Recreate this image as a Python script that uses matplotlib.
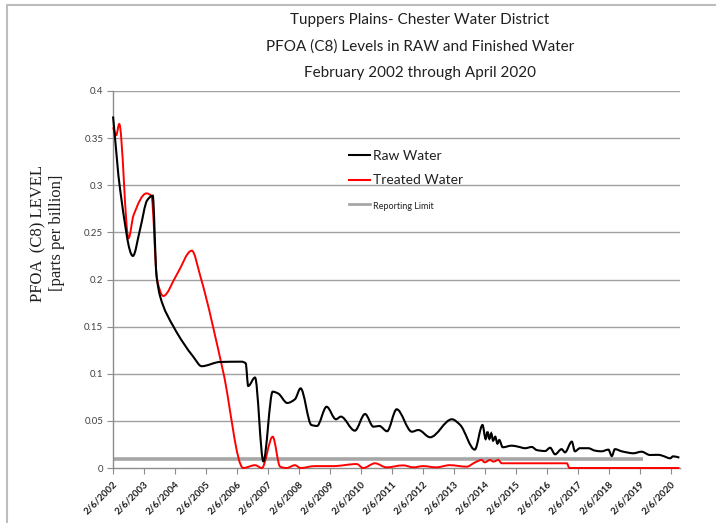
import numpy as np
import matplotlib
matplotlib.use("Agg")
import matplotlib.pyplot as plt
from matplotlib.path import Path
from matplotlib.patches import PathPatch, Rectangle
from matplotlib.lines import Line2D

# ---------------- data (decimal years) ----------------
raw_x = [2002.10, 2002.33, 2002.74, 2002.97, 2003.20, 2003.38, 2003.50, 2003.62,
         2004.05, 2004.69, 2004.96, 2005.55, 2006.25, 2006.38, 2006.46, 2006.68,
         2006.95, 2007.25, 2007.43, 2007.72, 2007.97, 2008.15, 2008.50, 2008.68,
         2008.99, 2009.29, 2009.45, 2009.90, 2010.23, 2010.50, 2010.69, 2010.94,
         2011.25, 2011.74, 2011.95, 2012.33, 2013.03, 2013.30, 2013.77, 2014.02,
         2014.12, 2014.18, 2014.24, 2014.30, 2014.36, 2014.43, 2014.50, 2014.56,
         2014.67, 2014.96, 2015.17, 2015.39, 2015.61, 2015.77, 2016.04, 2016.20,
         2016.36, 2016.57, 2016.68, 2016.90, 2017.00, 2017.16, 2017.43, 2017.65,
         2017.86, 2018.08, 2018.19, 2018.29, 2018.51, 2018.67, 2018.88, 2019.15,
         2019.42, 2019.69, 2019.85, 2020.07, 2020.17, 2020.37]
raw_y = [0.373, 0.295, 0.225, 0.253, 0.284, 0.289, 0.205, 0.182,
         0.150, 0.118, 0.108, 0.1125, 0.1128, 0.111, 0.087, 0.096,
         0.007, 0.081, 0.079, 0.069, 0.073, 0.0845, 0.0456, 0.0446,
         0.065, 0.0517, 0.0545, 0.0396, 0.0573, 0.0438, 0.0446, 0.0390,
         0.0623, 0.0385, 0.0403, 0.0326, 0.0517, 0.0456, 0.0195, 0.0456,
         0.0308, 0.0385, 0.0310, 0.0368, 0.0290, 0.0332, 0.0258, 0.0297,
         0.0220, 0.0237, 0.0226, 0.0210, 0.0223, 0.0190, 0.0180, 0.0215,
         0.0145, 0.0200, 0.0166, 0.0280, 0.0177, 0.0210, 0.0210, 0.0184,
         0.0177, 0.0195, 0.0127, 0.0200, 0.0177, 0.0166, 0.0156, 0.0173,
         0.0138, 0.0140, 0.0127, 0.0103, 0.0124, 0.0110]

treated_x = [2002.10, 2002.20, 2002.30, 2002.60, 2002.76, 2003.18, 2003.34, 2003.52,
             2003.72, 2004.15, 2004.64, 2004.92, 2005.66, 2006.30, 2006.68, 2006.90,
             2007.25, 2007.49, 2007.70, 2007.97, 2008.15, 2008.60, 2009.20, 2009.96,
             2010.17, 2010.55, 2010.92, 2011.46, 2011.79, 2012.10, 2012.53, 2012.96,
             2013.51, 2013.78, 2013.99, 2014.09, 2014.26, 2014.37, 2014.53, 2014.64,
             2016.74, 2016.82, 2020.37]
treated_y = [0.3615, 0.353, 0.365, 0.2437, 0.268, 0.2914, 0.2886, 0.200,
             0.1825, 0.2048, 0.2306, 0.203, 0.101, 0.000, 0.003, 0.000,
             0.0332, 0.0014, 0.000, 0.003, 0.000, 0.002, 0.002, 0.0042,
             0.000, 0.005, 0.0007, 0.0028, 0.0007, 0.002, 0.0007, 0.003,
             0.0014, 0.006, 0.0085, 0.006, 0.0085, 0.0068, 0.0085, 0.005,
             0.005, 0.000, 0.000]

limit_x = [2002.10, 2019.21]
limit_y = [0.01, 0.01]

tick_years = list(range(2002, 2021))
tick_labels = [f"2/6/{y}" for y in tick_years]
ytick_vals = [0, 0.05, 0.1, 0.15, 0.2, 0.25, 0.3, 0.35, 0.4]
ytick_labels = ["0", "0.05", "0.1", "0.15", "0.2", "0.25", "0.3", "0.35", "0.4"]

title_lines = ["Tuppers Plains- Chester Water District",
               "PFOA (C8) Levels in RAW and Finished Water",
               "February 2002 through April 2020"]

# ---------------- helpers ----------------
def smooth_path(x, y):
    """Cubic Bezier path through the points, monotone (PCHIP-style) tangents."""
    x = np.asarray(x, float)
    y = np.asarray(y, float)
    n = len(x)
    h = np.diff(x)
    d = np.diff(y) / h
    m = np.zeros(n)
    m[0] = d[0]
    m[-1] = d[-1]
    for i in range(1, n - 1):
        if d[i - 1] * d[i] <= 0:
            m[i] = 0.0
        else:
            w1 = 2 * h[i] + h[i - 1]
            w2 = h[i] + 2 * h[i - 1]
            m[i] = (w1 + w2) / (w1 / d[i - 1] + w2 / d[i])
    verts = [(x[0], y[0])]
    codes = [Path.MOVETO]
    for i in range(n - 1):
        dx = h[i] / 3.0
        verts += [(x[i] + dx, y[i] + m[i] * dx),
                  (x[i + 1] - dx, y[i + 1] - m[i + 1] * dx),
                  (x[i + 1], y[i + 1])]
        codes += [Path.CURVE4] * 3
    return Path(verts, codes)

# ---------------- figure ----------------
plt.rcParams['font.family'] = ['Lato', 'DejaVu Sans']
W, H = 716, 523
fig = plt.figure(figsize=(W / 100, H / 100), dpi=100)
ax = fig.add_axes([113 / W, 1 - 468 / H, (680 - 113) / W, (468 - 91) / H])

# chart border
fig.patches.append(Rectangle((7 / W, -0.1), 1.2, 1 - 5 / H + 0.1,
                             transform=fig.transFigure, fill=False,
                             edgecolor='#bdbdbd', lw=1.5))

ax.set_xlim(2002.10, 2020.39)
ax.set_ylim(0, 0.4)

grid_c = '#a0a0a0'
for v in ytick_vals[1:]:
    ax.axhline(v, color=grid_c, lw=1.0, zorder=1)

for s in ['top', 'right']:
    ax.spines[s].set_visible(False)
for s in ['left', 'bottom']:
    ax.spines[s].set_color('#8c8c8c')
    ax.spines[s].set_linewidth(1.0)

ax.set_yticks(ytick_vals)
ax.set_yticklabels(ytick_labels, fontsize=7, color='#404040')
ax.tick_params(axis='y', length=4, color='#8c8c8c', pad=3)

xt = [y + 36 / 365.0 for y in tick_years]
ax.set_xticks(xt)
ax.set_xticklabels(tick_labels, fontsize=7, fontweight='bold', color='#202020',
                   rotation=45, ha='right', va='top', rotation_mode='anchor')
ax.tick_params(axis='x', length=4, color='#8c8c8c', pad=4)

# reporting limit
ax.plot(limit_x, limit_y, color='#a6a6a6', lw=2.6, zorder=2, solid_capstyle='butt')

# data curves
ax.add_patch(PathPatch(smooth_path(raw_x, raw_y), facecolor='none',
                       edgecolor='black', lw=1.5, zorder=4, clip_on=False))
ax.add_patch(PathPatch(smooth_path(treated_x, treated_y), facecolor='none',
                       edgecolor='#ff0000', lw=1.4, zorder=3, clip_on=False))

handles = [Line2D([], [], color='black', lw=1.5),
           Line2D([], [], color='#ff0000', lw=1.5),
           Line2D([], [], color='#a6a6a6', lw=2.0)]
leg = ax.legend(handles, ['Raw Water', 'Treated Water', 'Reporting Limit'],
                loc='upper left',
                bbox_to_anchor=((349 - 113) / (680 - 113), 1 - (150 - 91) / (468 - 91)),
                frameon=False, fontsize=10, handlelength=1.5, handletextpad=0.2,
                labelspacing=0.9, borderaxespad=0, borderpad=0)
leg.get_texts()[2].set_fontsize(6.5)
for t in leg.get_texts():
    t.set_color('#202020')

# title
for i, line in enumerate(title_lines):
    fig.text(420 / W, 1 - (20 + 26.5 * i) / H, line, ha='center', va='center',
             fontsize=11, color='#202020')

# y label
fig.text(48 / W, 1 - 233 / H, "PFOA  (C8) LEVEL\n[parts per billion]",
         rotation=90, ha='center', va='center', fontsize=12,
         family=['Liberation Serif', 'DejaVu Serif'], color='#202020',
         linespacing=1.2)

fig.savefig('out.png', dpi=100)
